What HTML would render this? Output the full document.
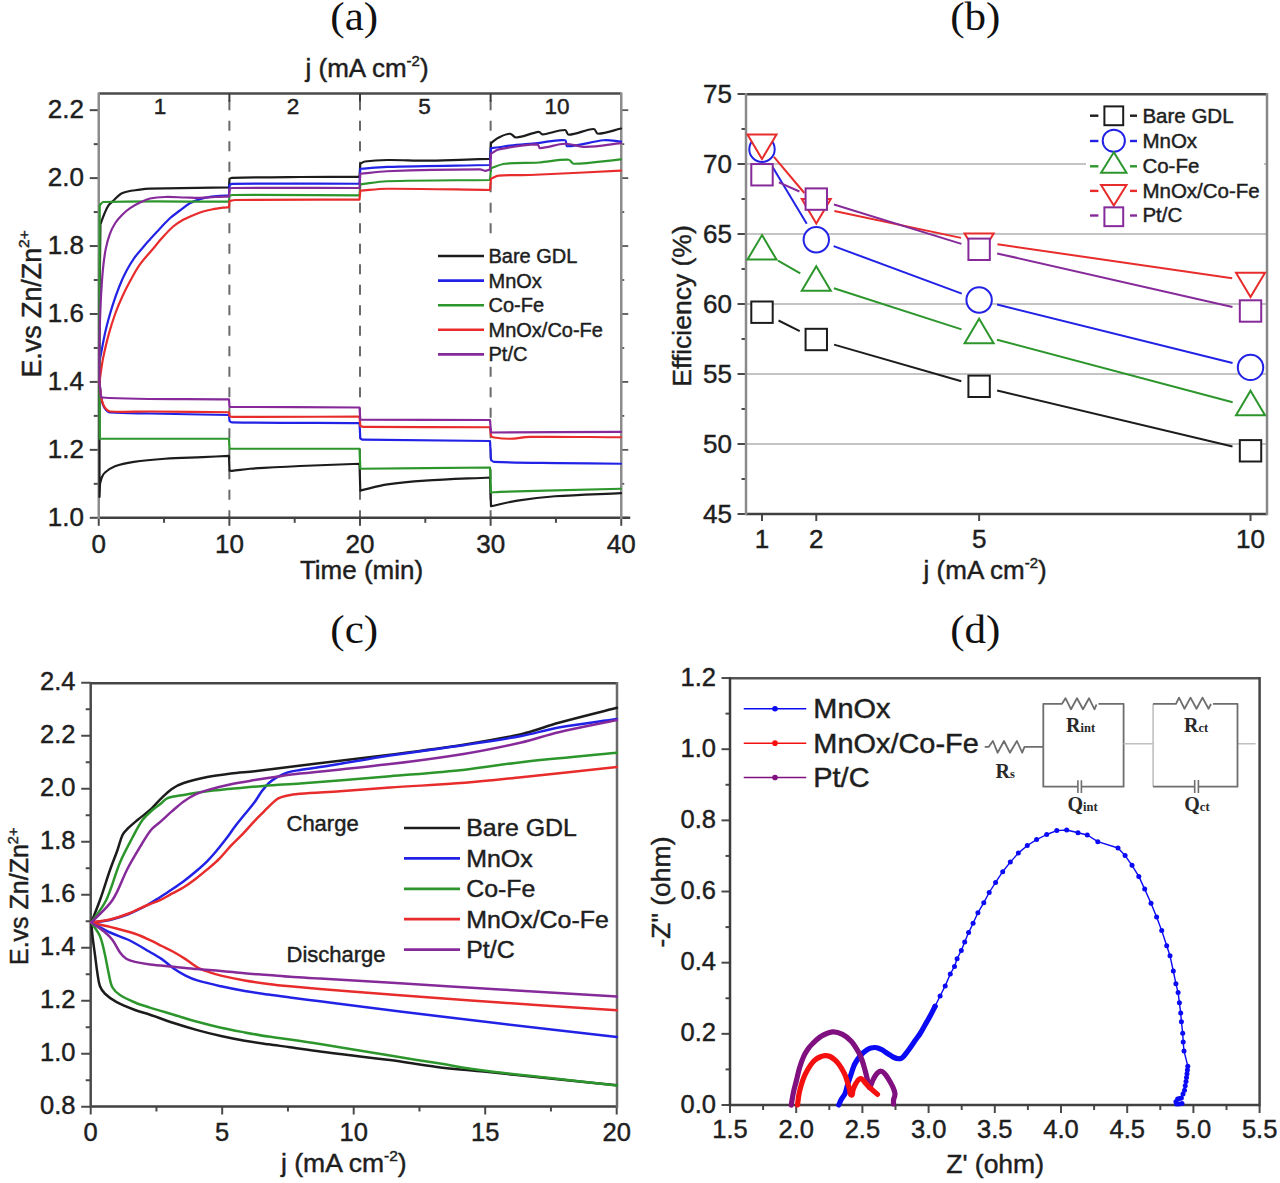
<!DOCTYPE html>
<html><head><meta charset="utf-8"><style>
html,body{margin:0;padding:0;background:#fff;}
svg{display:block;}
text[font-family="Liberation Sans"]{stroke:#1e1e1e;stroke-width:0.45px;}
</style></head><body>
<svg width="1280" height="1183" viewBox="0 0 1280 1183">
<rect width="1280" height="1183" fill="#ffffff"/>
<text transform="translate(354.2,29.5) scale(1.05,1)" font-family="Liberation Serif" font-size="41" text-anchor="middle" fill="#111" >(a)</text>
<text transform="translate(305.5,77)" font-family="Liberation Sans" font-size="26" fill="#1e1e1e">j (mA cm<tspan dy="-11" font-size="15">-2</tspan><tspan dy="11">)</tspan></text>
<line x1="229.38" y1="93.6" x2="229.38" y2="517.8" stroke="#6a6a6a" stroke-width="2" stroke-dasharray="10,10.5" stroke-dashoffset="13.85"/>
<line x1="360" y1="93.6" x2="360" y2="517.8" stroke="#6a6a6a" stroke-width="2" stroke-dasharray="10,10.5" stroke-dashoffset="13.85"/>
<line x1="490.62" y1="93.6" x2="490.62" y2="517.8" stroke="#6a6a6a" stroke-width="2" stroke-dasharray="10,10.5" stroke-dashoffset="13.85"/>
<line x1="89.75" y1="517.8" x2="98.75" y2="517.8" stroke="#4a4a4a" stroke-width="2" />
<line x1="621.25" y1="517.8" x2="628.25" y2="517.8" stroke="#5a5a5a" stroke-width="1.8" />
<text transform="translate(84,526.1)" font-family="Liberation Sans" font-size="26" text-anchor="end" fill="#1e1e1e" >1.0</text>
<line x1="93.75" y1="483.83" x2="98.75" y2="483.83" stroke="#4a4a4a" stroke-width="2" />
<line x1="621.25" y1="483.83" x2="624.25" y2="483.83" stroke="#5a5a5a" stroke-width="1.8" />
<line x1="89.75" y1="449.86" x2="98.75" y2="449.86" stroke="#4a4a4a" stroke-width="2" />
<line x1="621.25" y1="449.86" x2="628.25" y2="449.86" stroke="#5a5a5a" stroke-width="1.8" />
<text transform="translate(84,458.16)" font-family="Liberation Sans" font-size="26" text-anchor="end" fill="#1e1e1e" >1.2</text>
<line x1="93.75" y1="415.89" x2="98.75" y2="415.89" stroke="#4a4a4a" stroke-width="2" />
<line x1="621.25" y1="415.89" x2="624.25" y2="415.89" stroke="#5a5a5a" stroke-width="1.8" />
<line x1="89.75" y1="381.92" x2="98.75" y2="381.92" stroke="#4a4a4a" stroke-width="2" />
<line x1="621.25" y1="381.92" x2="628.25" y2="381.92" stroke="#5a5a5a" stroke-width="1.8" />
<text transform="translate(84,390.22)" font-family="Liberation Sans" font-size="26" text-anchor="end" fill="#1e1e1e" >1.4</text>
<line x1="93.75" y1="347.95" x2="98.75" y2="347.95" stroke="#4a4a4a" stroke-width="2" />
<line x1="621.25" y1="347.95" x2="624.25" y2="347.95" stroke="#5a5a5a" stroke-width="1.8" />
<line x1="89.75" y1="313.98" x2="98.75" y2="313.98" stroke="#4a4a4a" stroke-width="2" />
<line x1="621.25" y1="313.98" x2="628.25" y2="313.98" stroke="#5a5a5a" stroke-width="1.8" />
<text transform="translate(84,322.28)" font-family="Liberation Sans" font-size="26" text-anchor="end" fill="#1e1e1e" >1.6</text>
<line x1="93.75" y1="280.01" x2="98.75" y2="280.01" stroke="#4a4a4a" stroke-width="2" />
<line x1="621.25" y1="280.01" x2="624.25" y2="280.01" stroke="#5a5a5a" stroke-width="1.8" />
<line x1="89.75" y1="246.04" x2="98.75" y2="246.04" stroke="#4a4a4a" stroke-width="2" />
<line x1="621.25" y1="246.04" x2="628.25" y2="246.04" stroke="#5a5a5a" stroke-width="1.8" />
<text transform="translate(84,254.34)" font-family="Liberation Sans" font-size="26" text-anchor="end" fill="#1e1e1e" >1.8</text>
<line x1="93.75" y1="212.07" x2="98.75" y2="212.07" stroke="#4a4a4a" stroke-width="2" />
<line x1="621.25" y1="212.07" x2="624.25" y2="212.07" stroke="#5a5a5a" stroke-width="1.8" />
<line x1="89.75" y1="178.1" x2="98.75" y2="178.1" stroke="#4a4a4a" stroke-width="2" />
<line x1="621.25" y1="178.1" x2="628.25" y2="178.1" stroke="#5a5a5a" stroke-width="1.8" />
<text transform="translate(84,186.4)" font-family="Liberation Sans" font-size="26" text-anchor="end" fill="#1e1e1e" >2.0</text>
<line x1="93.75" y1="144.13" x2="98.75" y2="144.13" stroke="#4a4a4a" stroke-width="2" />
<line x1="621.25" y1="144.13" x2="624.25" y2="144.13" stroke="#5a5a5a" stroke-width="1.8" />
<line x1="89.75" y1="110.16" x2="98.75" y2="110.16" stroke="#4a4a4a" stroke-width="2" />
<line x1="621.25" y1="110.16" x2="628.25" y2="110.16" stroke="#5a5a5a" stroke-width="1.8" />
<text transform="translate(84,118.46)" font-family="Liberation Sans" font-size="26" text-anchor="end" fill="#1e1e1e" >2.2</text>
<line x1="98.75" y1="517.8" x2="98.75" y2="525.8" stroke="#4a4a4a" stroke-width="2" />
<text transform="translate(98.75,552.8)" font-family="Liberation Sans" font-size="26" text-anchor="middle" fill="#1e1e1e" >0</text>
<line x1="164.06" y1="517.8" x2="164.06" y2="522.8" stroke="#4a4a4a" stroke-width="2" />
<line x1="229.38" y1="517.8" x2="229.38" y2="525.8" stroke="#4a4a4a" stroke-width="2" />
<text transform="translate(229.38,552.8)" font-family="Liberation Sans" font-size="26" text-anchor="middle" fill="#1e1e1e" >10</text>
<line x1="294.69" y1="517.8" x2="294.69" y2="522.8" stroke="#4a4a4a" stroke-width="2" />
<line x1="360" y1="517.8" x2="360" y2="525.8" stroke="#4a4a4a" stroke-width="2" />
<text transform="translate(360,552.8)" font-family="Liberation Sans" font-size="26" text-anchor="middle" fill="#1e1e1e" >20</text>
<line x1="425.31" y1="517.8" x2="425.31" y2="522.8" stroke="#4a4a4a" stroke-width="2" />
<line x1="490.62" y1="517.8" x2="490.62" y2="525.8" stroke="#4a4a4a" stroke-width="2" />
<text transform="translate(490.62,552.8)" font-family="Liberation Sans" font-size="26" text-anchor="middle" fill="#1e1e1e" >30</text>
<line x1="555.94" y1="517.8" x2="555.94" y2="522.8" stroke="#4a4a4a" stroke-width="2" />
<line x1="621.25" y1="517.8" x2="621.25" y2="525.8" stroke="#4a4a4a" stroke-width="2" />
<text transform="translate(621.25,552.8)" font-family="Liberation Sans" font-size="26" text-anchor="middle" fill="#1e1e1e" >40</text>
<line x1="98.75" y1="93.6" x2="621.25" y2="93.6" stroke="#4a4a4a" stroke-width="2.5" />
<line x1="98.75" y1="517.8" x2="630.25" y2="517.8" stroke="#404040" stroke-width="2.5" />
<line x1="98.75" y1="92.4" x2="98.75" y2="519" stroke="#8c8c8c" stroke-width="2.5" />
<line x1="621.25" y1="92.4" x2="621.25" y2="519" stroke="#8c8c8c" stroke-width="2.5" />
<text transform="translate(160,113.8)" font-family="Liberation Sans" font-size="22.5" text-anchor="middle" fill="#1e1e1e" >1</text>
<text transform="translate(293,113.8)" font-family="Liberation Sans" font-size="22.5" text-anchor="middle" fill="#1e1e1e" >2</text>
<text transform="translate(424.5,113.8)" font-family="Liberation Sans" font-size="22.5" text-anchor="middle" fill="#1e1e1e" >5</text>
<text transform="translate(557,113.8)" font-family="Liberation Sans" font-size="22.5" text-anchor="middle" fill="#1e1e1e" >10</text>
<line x1="229.38" y1="93.6" x2="229.38" y2="101.6" stroke="#3a3a3a" stroke-width="2" />
<line x1="360" y1="93.6" x2="360" y2="101.6" stroke="#3a3a3a" stroke-width="2" />
<line x1="490.62" y1="93.6" x2="490.62" y2="101.6" stroke="#3a3a3a" stroke-width="2" />
<text transform="translate(361.5,579)" font-family="Liberation Sans" font-size="26" text-anchor="middle" fill="#1e1e1e" >Time (min)</text>
<text transform="translate(40.5,377.5) rotate(-90)" font-family="Liberation Sans" font-size="26.8" fill="#1e1e1e">E.vs Zn/Zn<tspan dy="-11.5" font-size="15.5">2+</tspan></text>
<path d="M99.5,382 L99.5,497 L100,483.75 C100.67,481.5 101.05,479.14 102,477 C102.73,475.35 103.61,473.65 105,472.5 C108.03,470 111.31,467.61 115,466.25 C121.02,464.03 127.4,462.85 133.75,461.9 C144.1,460.35 154.56,459.48 165,458.75 C177.48,457.88 190,457.66 202.5,457.1 C211.33,456.71 220.17,456.3 229,455.9 L229.5,470.6 C230.33,470.67 231.17,470.88 232,470.8 C238.01,470.26 243.98,469.18 250,468.75 C266.65,467.57 283.33,466.76 300,466 C319.83,465.09 339.67,464.5 359.5,463.75 L360.3,490.6 C369.37,488.53 378.31,485.82 387.5,484.4 C399.92,482.48 412.46,481.44 425,480.6 C446.64,479.14 468.33,478.53 490,477.5 L491,506.25 C499.83,504.37 508.58,501.99 517.5,500.6 C529.93,498.66 542.45,497.16 555,496.25 C576.97,494.66 599,494.15 621,493.1" fill="none" stroke="#1c1c1c" stroke-width="2.2" stroke-linejoin="round" stroke-linecap="round" />
<path d="M99.5,382 L99.6,300 L100.4,224.3 C101.77,220.7 102.98,217.04 104.5,213.5 C105.69,210.73 106.82,207.9 108.5,205.4 C109.56,203.81 111.17,202.67 112.6,201.4 C115.84,198.53 118.53,194.71 122.5,193 C127.96,190.65 134.13,190.54 140,189.6 C143.31,189.07 146.65,188.69 150,188.6 C176.33,187.92 202.67,187.73 229,187.3 L229.5,178.8 C230.33,178.47 231.1,177.82 232,177.8 C254.66,177.22 277.33,177.16 300,177 C319.83,176.86 339.67,176.93 359.5,176.9 L360.3,163.7 C361.87,162.97 363.29,161.73 365,161.5 C372.45,160.49 379.98,160.11 387.5,160 C400,159.81 412.5,160.63 425,160.6 C436.67,160.57 448.33,160.12 460,159.8 C470,159.52 480,159.13 490,158.8 L491,143.1 C493.58,141.23 495.89,138.91 498.75,137.5 C502.3,135.75 506.05,133.75 510,133.75 C512.43,133.75 513.83,137.66 516.25,137.5 C523.96,137 531.07,132.81 538.75,131.9 C540.24,131.72 541,134.51 542.5,134.4 C550.12,133.85 557.36,129.9 565,130 C567.02,130.03 566.73,134.82 568.75,134.75 C577.3,134.45 585.2,129.29 593.75,129 C595.87,128.93 595.88,133.79 598,133.75 C605.86,133.61 613.33,130.25 621,128.5" fill="none" stroke="#1c1c1c" stroke-width="2.2" stroke-linejoin="round" stroke-linecap="round" />
<path d="M99.5,382 C100,386.67 100.29,391.36 101,396 C101.46,399.04 101.97,402.11 103,405 C103.65,406.83 104.67,408.58 106,410 C107.07,411.15 108.43,412.38 110,412.5 C123.3,413.56 136.67,413.22 150,413.5 C176.33,414.05 202.67,414.5 229,415 L229.5,421 C230.33,421.43 231.06,422.28 232,422.3 C274.5,422.99 317,422.83 359.5,423.1 L360.3,438.5 C361.2,438.9 362.02,439.68 363,439.7 C405.33,440.52 447.67,440.57 490,441 L491,460 C492,460.63 492.82,461.85 494,461.9 C515.98,462.89 538,462.78 560,463.1 C580.33,463.4 600.67,463.53 621,463.75" fill="none" stroke="#2222e6" stroke-width="2.2" stroke-linejoin="round" stroke-linecap="round" />
<path d="M99.5,362 L100.4,356.8 C102.2,347.77 103.67,338.66 105.8,329.7 C107.74,321.52 110.09,313.43 112.6,305.4 C114.59,299.02 116.82,292.71 119.3,286.5 C121.33,281.43 123.56,276.43 126.1,271.6 C128.54,266.95 131.16,262.38 134.2,258.1 C137.48,253.49 141.35,249.32 145,245 C146.62,243.09 148.32,241.25 150,239.4 C153.32,235.75 156.62,232.09 160,228.5 C163.25,225.05 166.39,221.48 169.9,218.3 C173.04,215.46 176.53,213.06 179.9,210.5 C183.17,208.02 186.23,205.21 189.8,203.2 C192.92,201.45 196.39,200.37 199.8,199.3 C203.07,198.27 206.42,197.48 209.8,196.9 C213.07,196.34 216.39,196.12 219.7,195.9 C222.79,195.69 225.9,195.7 229,195.6 L229.5,185 C230.33,184.6 231.08,183.81 232,183.8 C274.5,183.39 317,183.77 359.5,183.75 L360.3,168.75 C369.2,168.13 378.08,167.16 387,166.9 C421.32,165.91 455.67,165.63 490,165 L491,148.1 C493.58,147.82 496.17,147.59 498.75,147.25 C502.51,146.76 506.23,146 510,145.6 C519.15,144.62 528.34,143.99 537.5,143.1 C546.67,142.21 555.83,139.29 565,140.25 C567.15,140.48 565.33,146.25 567.5,146.25 C579.75,146.25 591.55,141.31 603.75,140.25 C609.5,139.75 615.25,141.15 621,141.6" fill="none" stroke="#2222e6" stroke-width="2.2" stroke-linejoin="round" stroke-linecap="round" />
<path d="M99.5,382 L99.8,438.75 C142.87,438.75 185.93,438.75 229,438.75 L229.5,448.75 C272.83,448.75 316.17,448.75 359.5,448.75 L360.3,468.75 C403.53,468.33 446.77,467.92 490,467.5 L491,492.5 C494,492.3 496.99,491.99 500,491.9 C540.33,490.74 580.67,489.8 621,488.75" fill="none" stroke="#2c962c" stroke-width="2.2" stroke-linejoin="round" stroke-linecap="round" />
<path d="M99.5,382 L99.7,205.4 C100.83,204.27 101.5,202.05 103.1,202 C145.05,200.8 187.03,201.8 229,201.7 L229.5,196 C230.33,195.67 231.1,195 232,195 C274.5,194.8 317,195.27 359.5,195.4 L360.3,184.4 C369.2,183.35 378.04,181.55 387,181.25 C421.32,180.09 455.67,180.42 490,180 L491,168.1 C495.67,166.65 500.15,164.32 505,163.75 C516.18,162.44 527.51,163.2 538.75,162.5 C548.77,161.87 558.71,159.39 568.75,159.75 C570.88,159.83 571.62,163.76 573.75,163.75 C589.57,163.64 605.25,160.85 621,159.4" fill="none" stroke="#2c962c" stroke-width="2.2" stroke-linejoin="round" stroke-linecap="round" />
<path d="M99.5,382 C100,386.67 100.26,391.36 101,396 C101.43,398.71 102.01,401.43 103,404 C103.7,405.81 104.67,407.58 106,409 C107.07,410.15 108.43,411.41 110,411.5 C123.31,412.26 136.67,411.42 150,411.5 C176.33,411.67 202.67,412 229,412.25 L229.5,416 C230.33,416.3 231.11,416.9 232,416.9 C274.5,417.1 317,416.7 359.5,416.6 L360.3,426 C361.2,426.3 362.05,426.89 363,426.9 C405.33,427.31 447.67,427.13 490,427.25 L491,436 C492,436.5 492.89,437.34 494,437.5 C499.29,438.27 504.65,438.84 510,438.75 C516.69,438.64 523.31,436.99 530,436.9 C560.33,436.49 590.67,437.13 621,437.25" fill="none" stroke="#e82c2c" stroke-width="2.2" stroke-linejoin="round" stroke-linecap="round" />
<path d="M99.5,382 C100,378.33 100.45,374.66 101,371 C101.65,366.69 102.21,362.36 103.1,358.1 C104.71,350.39 106.42,342.7 108.5,335.1 C110.49,327.82 112.76,320.61 115.3,313.5 C117.27,308 119.57,302.62 122,297.3 C124.51,291.81 127.22,286.41 130.1,281.1 C133.09,275.6 136,270.02 139.6,264.9 C143.32,259.62 147.86,254.96 152,250 C155.49,245.82 158.86,241.54 162.5,237.5 C165.93,233.7 169.31,229.82 173.2,226.5 C176.25,223.89 179.71,221.77 183.2,219.8 C186.39,218 189.81,216.61 193.2,215.2 C196.45,213.84 199.73,212.52 203.1,211.5 C206.37,210.51 209.74,209.86 213.1,209.2 C216.38,208.56 219.68,208.02 223,207.6 C224.99,207.35 227,207.33 229,207.2 L229.5,201 C231.33,200.67 233.14,200.02 235,200 C276.5,199.55 318,199.73 359.5,199.6 L360.3,190.6 C369.2,189.98 378.08,188.79 387,188.75 C421.34,188.59 455.67,189.58 490,190 L491,178.75 C493.58,177.7 495.97,175.87 498.75,175.6 C509.12,174.6 519.59,175.43 530,175 C560.34,173.76 590.67,172.07 621,170.6" fill="none" stroke="#e82c2c" stroke-width="2.2" stroke-linejoin="round" stroke-linecap="round" />
<path d="M99.5,382 L100.5,392 C101,393.83 100.1,397.39 102,397.5 C144.27,399.93 186.67,398.77 229,399.4 L229.5,406.9 C272.83,407.1 316.17,407.3 359.5,407.5 L360.3,419.75 C403.53,419.83 446.77,419.92 490,420 L491,432.5 C534.33,432.3 577.67,432.1 621,431.9" fill="none" stroke="#862a9a" stroke-width="2.2" stroke-linejoin="round" stroke-linecap="round" />
<path d="M99.5,382 L99.3,350 L100,320 C100.37,311.53 100.6,303.06 101.1,294.6 C101.63,285.59 102.18,276.58 103.1,267.6 C103.75,261.24 104.54,254.87 105.8,248.6 C106.81,243.58 108.12,238.6 109.9,233.8 C111.3,230.03 113.13,226.39 115.3,223 C117.19,220.05 119.53,217.39 122,214.9 C124.48,212.4 127.18,210.08 130.1,208.1 C133.54,205.76 137.25,203.81 141,202 C143.9,200.6 146.85,199.16 150,198.5 C154.92,197.48 159.98,197.14 165,197 C171.67,196.81 178.33,197.33 185,197.5 C190,197.63 195,197.98 200,197.9 C205.01,197.82 210,197.22 215,197 C219.66,196.79 224.33,196.73 229,196.6 L229.5,189 C230.33,188.67 231.1,188.01 232,188 C274.5,187.67 317,188 359.5,188 L360.3,173.75 C369.2,172.92 378.07,171.57 387,171.25 C417.99,170.12 448.99,169.54 480,169.4 C481.73,169.39 483.27,170.8 485,170.8 C486.73,170.8 488.33,169.87 490,169.4 L491,153.75 C493.58,152.3 495.85,149.98 498.75,149.4 C511.52,146.83 524.48,144.81 537.5,144.4 C538.99,144.35 538.51,148.14 540,148.1 C548.46,147.9 556.54,143.97 565,143.75 C572.08,143.57 578.92,146.98 586,146.9 C597.73,146.76 609.33,144.37 621,143.1" fill="none" stroke="#862a9a" stroke-width="2.2" stroke-linejoin="round" stroke-linecap="round" />
<rect x="432" y="237" width="165" height="129" fill="#fff"/>
<line x1="438" y1="256" x2="484" y2="256" stroke="#1c1c1c" stroke-width="2.6" />
<text transform="translate(488.5,263)" font-family="Liberation Sans" font-size="20" text-anchor="start" fill="#1e1e1e" >Bare GDL</text>
<line x1="438" y1="280.6" x2="484" y2="280.6" stroke="#2222e6" stroke-width="2.6" />
<text transform="translate(488.5,287.6)" font-family="Liberation Sans" font-size="20" text-anchor="start" fill="#1e1e1e" >MnOx</text>
<line x1="438" y1="305.2" x2="484" y2="305.2" stroke="#2c962c" stroke-width="2.6" />
<text transform="translate(488.5,312.2)" font-family="Liberation Sans" font-size="20" text-anchor="start" fill="#1e1e1e" >Co-Fe</text>
<line x1="438" y1="329.8" x2="484" y2="329.8" stroke="#e82c2c" stroke-width="2.6" />
<text transform="translate(488.5,336.8)" font-family="Liberation Sans" font-size="20" text-anchor="start" fill="#1e1e1e" >MnOx/Co-Fe</text>
<line x1="438" y1="354.4" x2="484" y2="354.4" stroke="#862a9a" stroke-width="2.6" />
<text transform="translate(488.5,361.4)" font-family="Liberation Sans" font-size="20" text-anchor="start" fill="#1e1e1e" >Pt/C</text>
<text transform="translate(975.3,29.5) scale(1.05,1)" font-family="Liberation Serif" font-size="41" text-anchor="middle" fill="#111" >(b)</text>
<line x1="746" y1="444" x2="1267" y2="444" stroke="#c4c4c4" stroke-width="2" />
<line x1="746" y1="374" x2="1267" y2="374" stroke="#c4c4c4" stroke-width="2" />
<line x1="746" y1="304" x2="1267" y2="304" stroke="#c4c4c4" stroke-width="2" />
<line x1="746" y1="234" x2="1267" y2="234" stroke="#c4c4c4" stroke-width="2" />
<line x1="746" y1="164" x2="1267" y2="164" stroke="#c4c4c4" stroke-width="2" />
<line x1="737.5" y1="514" x2="746" y2="514" stroke="#4a4a4a" stroke-width="2" />
<text transform="translate(732,523)" font-family="Liberation Sans" font-size="26" text-anchor="end" fill="#1e1e1e" >45</text>
<line x1="741.5" y1="479" x2="746" y2="479" stroke="#4a4a4a" stroke-width="2" />
<line x1="737.5" y1="444" x2="746" y2="444" stroke="#4a4a4a" stroke-width="2" />
<text transform="translate(732,453)" font-family="Liberation Sans" font-size="26" text-anchor="end" fill="#1e1e1e" >50</text>
<line x1="741.5" y1="409" x2="746" y2="409" stroke="#4a4a4a" stroke-width="2" />
<line x1="737.5" y1="374" x2="746" y2="374" stroke="#4a4a4a" stroke-width="2" />
<text transform="translate(732,383)" font-family="Liberation Sans" font-size="26" text-anchor="end" fill="#1e1e1e" >55</text>
<line x1="741.5" y1="339" x2="746" y2="339" stroke="#4a4a4a" stroke-width="2" />
<line x1="737.5" y1="304" x2="746" y2="304" stroke="#4a4a4a" stroke-width="2" />
<text transform="translate(732,313)" font-family="Liberation Sans" font-size="26" text-anchor="end" fill="#1e1e1e" >60</text>
<line x1="741.5" y1="269" x2="746" y2="269" stroke="#4a4a4a" stroke-width="2" />
<line x1="737.5" y1="234" x2="746" y2="234" stroke="#4a4a4a" stroke-width="2" />
<text transform="translate(732,243)" font-family="Liberation Sans" font-size="26" text-anchor="end" fill="#1e1e1e" >65</text>
<line x1="741.5" y1="199" x2="746" y2="199" stroke="#4a4a4a" stroke-width="2" />
<line x1="737.5" y1="164" x2="746" y2="164" stroke="#4a4a4a" stroke-width="2" />
<text transform="translate(732,173)" font-family="Liberation Sans" font-size="26" text-anchor="end" fill="#1e1e1e" >70</text>
<line x1="741.5" y1="129" x2="746" y2="129" stroke="#4a4a4a" stroke-width="2" />
<line x1="737.5" y1="94" x2="746" y2="94" stroke="#4a4a4a" stroke-width="2" />
<text transform="translate(732,103)" font-family="Liberation Sans" font-size="26" text-anchor="end" fill="#1e1e1e" >75</text>
<line x1="762" y1="514" x2="762" y2="521" stroke="#4a4a4a" stroke-width="2" />
<text transform="translate(762,548)" font-family="Liberation Sans" font-size="26" text-anchor="middle" fill="#1e1e1e" >1</text>
<line x1="816.28" y1="514" x2="816.28" y2="521" stroke="#4a4a4a" stroke-width="2" />
<text transform="translate(816.28,548)" font-family="Liberation Sans" font-size="26" text-anchor="middle" fill="#1e1e1e" >2</text>
<line x1="979.12" y1="514" x2="979.12" y2="521" stroke="#4a4a4a" stroke-width="2" />
<text transform="translate(979.12,548)" font-family="Liberation Sans" font-size="26" text-anchor="middle" fill="#1e1e1e" >5</text>
<line x1="1250.52" y1="514" x2="1250.52" y2="521" stroke="#4a4a4a" stroke-width="2" />
<text transform="translate(1250.52,548)" font-family="Liberation Sans" font-size="26" text-anchor="middle" fill="#1e1e1e" >10</text>
<line x1="746" y1="94.3" x2="1267" y2="94.3" stroke="#454545" stroke-width="2.5" />
<line x1="746" y1="514" x2="1267" y2="514" stroke="#404040" stroke-width="2.5" />
<line x1="746" y1="93.1" x2="746" y2="515.2" stroke="#8a8a8a" stroke-width="2.5" />
<line x1="1267" y1="93.1" x2="1267" y2="515.2" stroke="#888888" stroke-width="2.5" />
<text transform="translate(923.6,578.6)" font-family="Liberation Sans" font-size="26" fill="#1e1e1e">j (mA cm<tspan dy="-11" font-size="15">-2</tspan><tspan dy="11">)</tspan></text>
<text transform="translate(691.2,306) rotate(-90)" font-family="Liberation Sans" font-size="26.5" text-anchor="middle" fill="#1e1e1e" >Efficiency (%)</text>
<line x1="778.53" y1="320.51" x2="799.75" y2="331.19" stroke="#1c1c1c" stroke-width="2" />
<line x1="834.06" y1="344.61" x2="961.34" y2="381.19" stroke="#1c1c1c" stroke-width="2" />
<line x1="997.12" y1="390.58" x2="1232.52" y2="446.52" stroke="#1c1c1c" stroke-width="2" />
<rect x="751.3" y="301.5" width="21.4" height="21.4" fill="#fff" stroke="#1c1c1c" stroke-width="2"/>
<rect x="805.58" y="328.8" width="21.4" height="21.4" fill="#fff" stroke="#1c1c1c" stroke-width="2"/>
<rect x="968.42" y="375.6" width="21.4" height="21.4" fill="#fff" stroke="#1c1c1c" stroke-width="2"/>
<rect x="1239.82" y="440.1" width="21.4" height="21.4" fill="#fff" stroke="#1c1c1c" stroke-width="2"/>
<line x1="771.52" y1="165.16" x2="806.76" y2="223.84" stroke="#2222e6" stroke-width="2" />
<line x1="833.63" y1="246.12" x2="961.77" y2="293.58" stroke="#2222e6" stroke-width="2" />
<line x1="997.07" y1="304.46" x2="1232.57" y2="362.94" stroke="#2222e6" stroke-width="2" />
<circle cx="762" cy="149.3" r="12.7" fill="#fff" stroke="#2222e6" stroke-width="2"/>
<circle cx="816.28" cy="239.7" r="12.7" fill="#fff" stroke="#2222e6" stroke-width="2"/>
<circle cx="979.12" cy="300" r="12.7" fill="#fff" stroke="#2222e6" stroke-width="2"/>
<circle cx="1250.52" cy="367.4" r="12.7" fill="#fff" stroke="#2222e6" stroke-width="2"/>
<line x1="778.04" y1="260.62" x2="800.24" y2="273.38" stroke="#2c962c" stroke-width="2" />
<line x1="833.89" y1="288.27" x2="961.51" y2="329.33" stroke="#2c962c" stroke-width="2" />
<line x1="997" y1="339.74" x2="1232.64" y2="402.26" stroke="#2c962c" stroke-width="2" />
<path d="M762,235.1 L776.5,259.55 L747.5,259.55 Z" fill="#fff" stroke="#2c962c" stroke-width="2" stroke-linejoin="miter"/>
<path d="M816.28,266.3 L830.78,290.75 L801.78,290.75 Z" fill="#fff" stroke="#2c962c" stroke-width="2" stroke-linejoin="miter"/>
<path d="M979.12,318.7 L993.62,343.15 L964.62,343.15 Z" fill="#fff" stroke="#2c962c" stroke-width="2" stroke-linejoin="miter"/>
<path d="M1250.52,390.7 L1265.02,415.15 L1236.02,415.15 Z" fill="#fff" stroke="#2c962c" stroke-width="2" stroke-linejoin="miter"/>
<line x1="773.92" y1="156.85" x2="804.36" y2="193" stroke="#e82c2c" stroke-width="2" />
<line x1="834.38" y1="210.99" x2="961.02" y2="237.86" stroke="#e82c2c" stroke-width="2" />
<line x1="997.43" y1="244.34" x2="1232.21" y2="278.16" stroke="#e82c2c" stroke-width="2" />
<path d="M747.5,134.55 L776.5,134.55 L762,159 Z" fill="#fff" stroke="#e82c2c" stroke-width="2" stroke-linejoin="miter"/>
<path d="M801.78,199 L830.78,199 L816.28,223.45 Z" fill="#fff" stroke="#e82c2c" stroke-width="2" stroke-linejoin="miter"/>
<path d="M964.62,233.55 L993.62,233.55 L979.12,258 Z" fill="#fff" stroke="#e82c2c" stroke-width="2" stroke-linejoin="miter"/>
<path d="M1236.02,272.65 L1265.02,272.65 L1250.52,297.1 Z" fill="#fff" stroke="#e82c2c" stroke-width="2" stroke-linejoin="miter"/>
<line x1="778.88" y1="182.32" x2="799.4" y2="191.53" stroke="#862a9a" stroke-width="2" />
<line x1="833.96" y1="204.55" x2="961.44" y2="243.85" stroke="#862a9a" stroke-width="2" />
<line x1="997.16" y1="253.4" x2="1232.48" y2="306.9" stroke="#862a9a" stroke-width="2" />
<rect x="751.3" y="164.05" width="21.4" height="21.4" fill="#fff" stroke="#862a9a" stroke-width="2"/>
<rect x="805.58" y="188.4" width="21.4" height="21.4" fill="#fff" stroke="#862a9a" stroke-width="2"/>
<rect x="968.42" y="238.6" width="21.4" height="21.4" fill="#fff" stroke="#862a9a" stroke-width="2"/>
<rect x="1239.82" y="300.3" width="21.4" height="21.4" fill="#fff" stroke="#862a9a" stroke-width="2"/>
<rect x="1086" y="99" width="178" height="130" fill="#fff"/>
<line x1="1090" y1="115.7" x2="1098.4" y2="115.7" stroke="#1c1c1c" stroke-width="2.4" />
<line x1="1130" y1="115.7" x2="1137" y2="115.7" stroke="#1c1c1c" stroke-width="2.4" />
<rect x="1104.4" y="106.4" width="18.8" height="18.8" fill="#fff" stroke="#1c1c1c" stroke-width="2"/>
<text transform="translate(1142.4,122.5)" font-family="Liberation Sans" font-size="20.5" text-anchor="start" fill="#1e1e1e" >Bare GDL</text>
<line x1="1090" y1="141" x2="1098.4" y2="141" stroke="#2222e6" stroke-width="2.4" />
<line x1="1130" y1="141" x2="1137" y2="141" stroke="#2222e6" stroke-width="2.4" />
<circle cx="1113.8" cy="140.75" r="11.1" fill="#fff" stroke="#2222e6" stroke-width="2"/>
<text transform="translate(1142.4,147.8)" font-family="Liberation Sans" font-size="20.5" text-anchor="start" fill="#1e1e1e" >MnOx</text>
<line x1="1090" y1="166.3" x2="1098.4" y2="166.3" stroke="#2c962c" stroke-width="2.4" />
<line x1="1130" y1="166.3" x2="1137" y2="166.3" stroke="#2c962c" stroke-width="2.4" />
<path d="M1113.8,152.3 L1126.5,172.7 L1101.1,172.7 Z" fill="#fff" stroke="#2c962c" stroke-width="2" stroke-linejoin="miter"/>
<text transform="translate(1142.4,173.1)" font-family="Liberation Sans" font-size="20.5" text-anchor="start" fill="#1e1e1e" >Co-Fe</text>
<line x1="1090" y1="190.9" x2="1098.4" y2="190.9" stroke="#e82c2c" stroke-width="2.4" />
<line x1="1130" y1="190.9" x2="1137" y2="190.9" stroke="#e82c2c" stroke-width="2.4" />
<path d="M1101.1,185.1 L1126.5,185.1 L1113.8,205.5 Z" fill="#fff" stroke="#e82c2c" stroke-width="2" stroke-linejoin="miter"/>
<text transform="translate(1142.4,197.7)" font-family="Liberation Sans" font-size="20.5" text-anchor="start" fill="#1e1e1e" >MnOx/Co-Fe</text>
<line x1="1090" y1="215.5" x2="1098.4" y2="215.5" stroke="#862a9a" stroke-width="2.4" />
<line x1="1130" y1="215.5" x2="1137" y2="215.5" stroke="#862a9a" stroke-width="2.4" />
<rect x="1104.4" y="207.35" width="18.8" height="18.8" fill="#fff" stroke="#862a9a" stroke-width="2"/>
<text transform="translate(1142.4,222.3)" font-family="Liberation Sans" font-size="20.5" text-anchor="start" fill="#1e1e1e" >Pt/C</text>
<text transform="translate(354.2,643) scale(1.05,1)" font-family="Liberation Serif" font-size="41" text-anchor="middle" fill="#111" >(c)</text>
<line x1="81.2" y1="1106.75" x2="90.7" y2="1106.75" stroke="#4a4a4a" stroke-width="2" />
<text transform="translate(75.5,1114.05)" font-family="Liberation Sans" font-size="25.5" text-anchor="end" fill="#1e1e1e" >0.8</text>
<line x1="85.7" y1="1080.25" x2="90.7" y2="1080.25" stroke="#4a4a4a" stroke-width="2" />
<line x1="81.2" y1="1053.75" x2="90.7" y2="1053.75" stroke="#4a4a4a" stroke-width="2" />
<text transform="translate(75.5,1061.05)" font-family="Liberation Sans" font-size="25.5" text-anchor="end" fill="#1e1e1e" >1.0</text>
<line x1="85.7" y1="1027.25" x2="90.7" y2="1027.25" stroke="#4a4a4a" stroke-width="2" />
<line x1="81.2" y1="1000.75" x2="90.7" y2="1000.75" stroke="#4a4a4a" stroke-width="2" />
<text transform="translate(75.5,1008.05)" font-family="Liberation Sans" font-size="25.5" text-anchor="end" fill="#1e1e1e" >1.2</text>
<line x1="85.7" y1="974.25" x2="90.7" y2="974.25" stroke="#4a4a4a" stroke-width="2" />
<line x1="81.2" y1="947.75" x2="90.7" y2="947.75" stroke="#4a4a4a" stroke-width="2" />
<text transform="translate(75.5,955.05)" font-family="Liberation Sans" font-size="25.5" text-anchor="end" fill="#1e1e1e" >1.4</text>
<line x1="85.7" y1="921.25" x2="90.7" y2="921.25" stroke="#4a4a4a" stroke-width="2" />
<line x1="81.2" y1="894.75" x2="90.7" y2="894.75" stroke="#4a4a4a" stroke-width="2" />
<text transform="translate(75.5,902.05)" font-family="Liberation Sans" font-size="25.5" text-anchor="end" fill="#1e1e1e" >1.6</text>
<line x1="85.7" y1="868.25" x2="90.7" y2="868.25" stroke="#4a4a4a" stroke-width="2" />
<line x1="81.2" y1="841.75" x2="90.7" y2="841.75" stroke="#4a4a4a" stroke-width="2" />
<text transform="translate(75.5,849.05)" font-family="Liberation Sans" font-size="25.5" text-anchor="end" fill="#1e1e1e" >1.8</text>
<line x1="85.7" y1="815.25" x2="90.7" y2="815.25" stroke="#4a4a4a" stroke-width="2" />
<line x1="81.2" y1="788.75" x2="90.7" y2="788.75" stroke="#4a4a4a" stroke-width="2" />
<text transform="translate(75.5,796.05)" font-family="Liberation Sans" font-size="25.5" text-anchor="end" fill="#1e1e1e" >2.0</text>
<line x1="85.7" y1="762.25" x2="90.7" y2="762.25" stroke="#4a4a4a" stroke-width="2" />
<line x1="81.2" y1="735.75" x2="90.7" y2="735.75" stroke="#4a4a4a" stroke-width="2" />
<text transform="translate(75.5,743.05)" font-family="Liberation Sans" font-size="25.5" text-anchor="end" fill="#1e1e1e" >2.2</text>
<line x1="85.7" y1="709.25" x2="90.7" y2="709.25" stroke="#4a4a4a" stroke-width="2" />
<line x1="81.2" y1="682.75" x2="90.7" y2="682.75" stroke="#4a4a4a" stroke-width="2" />
<text transform="translate(75.5,690.05)" font-family="Liberation Sans" font-size="25.5" text-anchor="end" fill="#1e1e1e" >2.4</text>
<line x1="90.7" y1="1106.5" x2="90.7" y2="1114.5" stroke="#4a4a4a" stroke-width="2" />
<text transform="translate(90.7,1141)" font-family="Liberation Sans" font-size="25.5" text-anchor="middle" fill="#1e1e1e" >0</text>
<line x1="156.45" y1="1106.5" x2="156.45" y2="1111.5" stroke="#4a4a4a" stroke-width="2" />
<line x1="222.2" y1="1106.5" x2="222.2" y2="1114.5" stroke="#4a4a4a" stroke-width="2" />
<text transform="translate(222.2,1141)" font-family="Liberation Sans" font-size="25.5" text-anchor="middle" fill="#1e1e1e" >5</text>
<line x1="287.95" y1="1106.5" x2="287.95" y2="1111.5" stroke="#4a4a4a" stroke-width="2" />
<line x1="353.7" y1="1106.5" x2="353.7" y2="1114.5" stroke="#4a4a4a" stroke-width="2" />
<text transform="translate(353.7,1141)" font-family="Liberation Sans" font-size="25.5" text-anchor="middle" fill="#1e1e1e" >10</text>
<line x1="419.45" y1="1106.5" x2="419.45" y2="1111.5" stroke="#4a4a4a" stroke-width="2" />
<line x1="485.2" y1="1106.5" x2="485.2" y2="1114.5" stroke="#4a4a4a" stroke-width="2" />
<text transform="translate(485.2,1141)" font-family="Liberation Sans" font-size="25.5" text-anchor="middle" fill="#1e1e1e" >15</text>
<line x1="550.95" y1="1106.5" x2="550.95" y2="1111.5" stroke="#4a4a4a" stroke-width="2" />
<line x1="616.7" y1="1106.5" x2="616.7" y2="1114.5" stroke="#4a4a4a" stroke-width="2" />
<text transform="translate(616.7,1141)" font-family="Liberation Sans" font-size="25.5" text-anchor="middle" fill="#1e1e1e" >20</text>
<line x1="90.7" y1="683.2" x2="617" y2="683.2" stroke="#454545" stroke-width="2.5" />
<line x1="90.7" y1="1106.5" x2="617" y2="1106.5" stroke="#404040" stroke-width="2.5" />
<line x1="90.7" y1="682" x2="90.7" y2="1107.7" stroke="#4a4a4a" stroke-width="2.5" />
<line x1="617" y1="682" x2="617" y2="1107.7" stroke="#6a6a6a" stroke-width="2.5" />
<text transform="translate(281,1171.7)" font-family="Liberation Sans" font-size="26.5" fill="#1e1e1e">j (mA cm<tspan dy="-11" font-size="15.5">-2</tspan><tspan dy="11">)</tspan></text>
<text transform="translate(28,965) rotate(-90)" font-family="Liberation Sans" font-size="25" fill="#1e1e1e">E.vs Zn/Zn<tspan dy="-10.5" font-size="14.5">2+</tspan></text>
<text transform="translate(286.5,830.6)" font-family="Liberation Sans" font-size="22" text-anchor="start" fill="#1e1e1e" >Charge</text>
<text transform="translate(286.5,961.5)" font-family="Liberation Sans" font-size="22" text-anchor="start" fill="#1e1e1e" >Discharge</text>
<path d="M91.25,922.5 C91.67,927.08 91.97,931.68 92.5,936.25 C93.22,942.51 94.17,948.75 95,955 C95.83,961.25 96.5,967.52 97.5,973.75 C98.17,977.95 98.51,982.27 100,986.25 C101.05,989.06 102.84,991.67 105,993.75 C108.34,996.96 112.18,999.69 116.25,1001.9 C122.24,1005.14 128.63,1007.59 135,1010 C139.9,1011.86 145.03,1013.03 150,1014.7 C157.93,1017.37 165.74,1020.41 173.7,1023 C181.51,1025.54 189.38,1027.92 197.3,1030.1 C205.15,1032.26 213.06,1034.22 221,1036 C228.86,1037.76 236.77,1039.31 244.7,1040.7 C252.54,1042.08 260.42,1043.17 268.3,1044.3 C275.52,1045.34 282.77,1046.19 290,1047.2 C300.01,1048.59 309.98,1050.22 320,1051.5 C343.31,1054.48 366.7,1056.93 390,1060 C405.67,1062.06 421.22,1064.96 436.9,1066.9 C452.48,1068.83 468.14,1070 483.75,1071.6 C505.84,1073.87 527.91,1076.23 550,1078.5 C572.3,1080.79 594.6,1083.03 616.9,1085.3" fill="none" stroke="#1c1c1c" stroke-width="2.5" stroke-linejoin="round" stroke-linecap="round" />
<path d="M91.25,922.5 C94.17,915 97.29,907.58 100,900 C103.55,890.07 106.52,879.95 110,870 C112.35,863.28 115.11,856.71 117.5,850 C119.27,845.04 120.26,839.77 122.5,835 C123.64,832.59 125.61,830.64 127.5,828.75 C130.63,825.62 134.1,822.84 137.5,820 C141.6,816.58 146.05,813.58 150,810 C153.56,806.77 156.54,802.94 160,799.6 C163.82,795.91 167.45,791.95 171.8,788.9 C175.43,786.36 179.5,784.4 183.7,783 C191.39,780.44 199.35,778.68 207.3,777.1 C215.13,775.54 223.08,774.59 231,773.6 C238.88,772.62 246.81,772.12 254.7,771.2 C274.82,768.84 294.9,766.2 315,763.75 C340,760.7 365.03,757.92 390,754.7 C415.03,751.47 440.07,748.31 465,744.4 C483.83,741.44 502.67,738.38 521.25,734.1 C533.97,731.17 546.16,726.26 558.75,722.8 C578.05,717.49 597.52,712.8 616.9,707.8" fill="none" stroke="#1c1c1c" stroke-width="2.5" stroke-linejoin="round" stroke-linecap="round" />
<path d="M91.25,922.5 C97.5,925.83 103.58,929.5 110,932.5 C116.1,935.35 122.7,937.05 128.75,940 C136.06,943.56 142.96,947.93 150,952 C153.97,954.3 158.03,956.48 161.8,959.1 C165.95,961.99 169.55,965.61 173.7,968.5 C177.47,971.12 181.4,973.53 185.5,975.6 C189.29,977.51 193.23,979.17 197.3,980.4 C205.09,982.75 213.06,984.52 221,986.3 C228.86,988.06 236.77,989.61 244.7,991 C252.54,992.38 260.42,993.47 268.3,994.6 C275.52,995.64 282.76,996.56 290,997.5 C300,998.8 310,1000.02 320,1001.3 C346.67,1004.72 373.32,1008.31 400,1011.6 C433.32,1015.71 466.66,1019.61 500,1023.5 C538.96,1028.04 577.93,1032.43 616.9,1036.9" fill="none" stroke="#2222e6" stroke-width="2.5" stroke-linejoin="round" stroke-linecap="round" />
<path d="M91.25,922.5 C94.17,922.17 97.09,921.89 100,921.5 C103.34,921.05 106.74,920.85 110,920 C116.35,918.34 122.66,916.44 128.75,914 C135.19,911.43 141.39,908.28 147.5,905 C151.83,902.67 155.86,899.84 160,897.2 C163.96,894.67 167.91,892.13 171.8,889.5 C175.81,886.79 179.83,884.09 183.7,881.2 C187.73,878.19 191.67,875.06 195.5,871.8 C199.54,868.36 203.55,864.85 207.3,861.1 C210.66,857.74 213.74,854.13 216.8,850.5 C220.07,846.62 223.23,842.64 226.3,838.6 C229.53,834.34 232.46,829.85 235.7,825.6 C238.76,821.58 242.03,817.73 245.2,813.8 C248.37,809.87 251.7,806.06 254.7,802 C257.24,798.56 259.24,794.73 261.8,791.3 C263.98,788.38 266.22,785.47 268.9,783 C271.4,780.7 274.24,778.76 277.2,777.1 C280.57,775.21 284.11,773.55 287.8,772.4 C291.76,771.17 295.91,770.67 300,770 C309.98,768.37 320.02,767.11 330,765.5 C350.02,762.27 369.95,758.54 390,755.5 C414.96,751.71 440.03,748.71 465,745 C483.78,742.21 502.58,739.48 521.25,736 C533.85,733.65 546.13,729.73 558.75,727.5 C578.04,724.09 597.52,721.9 616.9,719.1" fill="none" stroke="#2222e6" stroke-width="2.5" stroke-linejoin="round" stroke-linecap="round" />
<path d="M91.25,922.5 C94.17,927.08 97.88,931.25 100,936.25 C102.52,942.21 103.53,948.7 105,955 C106.45,961.21 107.32,967.54 108.75,973.75 C109.82,978.38 110.28,983.3 112.5,987.5 C114.15,990.62 117.06,993.04 120,995 C124.65,998.1 129.85,1000.34 135,1002.5 C139.87,1004.55 144.96,1006.01 150,1007.6 C157.87,1010.08 165.8,1012.33 173.7,1014.7 C181.57,1017.06 189.38,1019.62 197.3,1021.8 C205.15,1023.96 213.06,1025.92 221,1027.7 C228.86,1029.46 236.79,1030.91 244.7,1032.4 C252.55,1033.88 260.41,1035.36 268.3,1036.6 C275.51,1037.73 282.78,1038.47 290,1039.5 C300.01,1040.93 310.02,1042.39 320,1044 C343.35,1047.76 366.66,1051.79 390,1055.6 C405.62,1058.15 421.27,1060.6 436.9,1063.1 C452.52,1065.6 468.07,1068.53 483.75,1070.6 C505.78,1073.5 527.92,1075.51 550,1078 C572.3,1080.51 594.6,1083.07 616.9,1085.6" fill="none" stroke="#2c962c" stroke-width="2.5" stroke-linejoin="round" stroke-linecap="round" />
<path d="M91.25,922.5 C96.25,915 102.35,908.13 106.25,900 C112,887.99 114.84,874.78 120,862.5 C123.61,853.91 128.14,845.73 132.5,837.5 C135.64,831.56 138.55,825.43 142.5,820 C145.27,816.19 148.99,813.15 152.5,810 C154.84,807.9 157.54,806.25 160,804.3 C162.41,802.39 164.24,799.53 167.1,798.4 C172.36,796.32 178.13,795.88 183.7,794.9 C191.54,793.52 199.4,792.25 207.3,791.3 C219.11,789.88 230.96,788.88 242.8,787.8 C254.63,786.72 266.46,785.67 278.3,784.8 C285.52,784.27 292.78,784.15 300,783.6 C330.01,781.3 360.01,778.78 390,776.25 C415.01,774.14 440.05,772.37 465,769.7 C483.81,767.69 502.45,764.29 521.25,762.2 C553.09,758.66 585.02,755.93 616.9,752.8" fill="none" stroke="#2c962c" stroke-width="2.5" stroke-linejoin="round" stroke-linecap="round" />
<path d="M91.25,922.5 C97.5,923.97 103.78,925.3 110,926.9 C118.37,929.05 126.79,931.04 135,933.75 C140.16,935.45 145.06,937.84 150,940.1 C154,941.93 157.87,944.03 161.8,946 C165.77,947.99 169.81,949.85 173.7,952 C177.72,954.22 181.65,956.6 185.5,959.1 C189.52,961.71 193.1,965 197.3,967.3 C201.05,969.36 205.16,970.69 209.2,972.1 C213.07,973.46 217.01,974.67 221,975.6 C228.85,977.44 236.76,979.01 244.7,980.4 C252.53,981.77 260.41,982.87 268.3,983.9 C275.52,984.84 282.76,985.59 290,986.3 C299.99,987.29 309.99,988.18 320,989 C346.66,991.18 373.33,993.3 400,995.3 C433.33,997.8 466.66,1000.2 500,1002.5 C538.96,1005.19 577.93,1007.67 616.9,1010.25" fill="none" stroke="#e82c2c" stroke-width="2.5" stroke-linejoin="round" stroke-linecap="round" />
<path d="M91.25,922.5 C97.5,921.5 103.85,920.98 110,919.5 C116.38,917.97 122.63,915.87 128.75,913.5 C135.15,911.03 141.19,907.69 147.5,905 C151.61,903.25 155.95,902.08 160,900.2 C164.07,898.31 167.86,895.86 171.8,893.7 C175.76,891.53 179.87,889.59 183.7,887.2 C187.78,884.65 191.66,881.8 195.5,878.9 C199.53,875.86 203.45,872.67 207.3,869.4 C211.35,865.96 215.44,862.56 219.2,858.8 C223.36,854.64 226.96,849.97 231,845.7 C234.83,841.66 238.96,837.92 242.8,833.9 C246.86,829.65 250.66,825.17 254.7,820.9 C257.76,817.66 260.96,814.56 264.1,811.4 C266.86,808.63 269.51,805.74 272.4,803.1 C274.25,801.4 276.09,799.61 278.3,798.4 C280.49,797.2 282.96,796.53 285.4,796 C290.22,794.96 295.09,794.13 300,793.7 C313.31,792.54 326.67,792.17 340,791.25 C356.67,790.1 373.32,788.63 390,787.5 C414.99,785.81 440.03,784.76 465,782.8 C483.78,781.33 502.51,779.16 521.25,777.2 C553.14,773.86 585.02,770.33 616.9,766.9" fill="none" stroke="#e82c2c" stroke-width="2.5" stroke-linejoin="round" stroke-linecap="round" />
<path d="M91.25,922.5 C95.42,925.42 99.82,928.02 103.75,931.25 C106.93,933.87 109.99,936.72 112.5,940 C115.45,943.86 117.13,948.58 120,952.5 C121.74,954.88 123.75,957.19 126.25,958.75 C128.88,960.4 131.98,961.18 135,961.9 C139.93,963.07 144.97,963.78 150,964.4 C157.88,965.38 165.8,965.92 173.7,966.7 C181.57,967.48 189.42,968.4 197.3,969.1 C205.19,969.8 213.11,970.2 221,970.9 C228.91,971.6 236.79,972.61 244.7,973.3 C252.56,973.98 260.44,974.39 268.3,975 C275.54,975.56 282.76,976.31 290,976.8 C299.99,977.48 310,977.92 320,978.5 C346.67,980.05 373.34,981.57 400,983.2 C433.34,985.24 466.66,987.44 500,989.5 C538.96,991.91 577.93,994.23 616.9,996.6" fill="none" stroke="#862a9a" stroke-width="2.5" stroke-linejoin="round" stroke-linecap="round" />
<path d="M91.25,922.5 C98.33,915 106.73,908.55 112.5,900 C118.96,890.42 122.15,878.99 127.5,868.75 C131.74,860.64 136.51,852.82 141.25,845 C144.34,839.9 147.22,834.61 151,830 C153.53,826.91 157.02,824.76 160,822.1 C163.96,818.56 167.8,814.89 171.8,811.4 C175.7,807.99 179.5,804.43 183.7,801.4 C187.42,798.71 191.36,796.28 195.5,794.3 C199.27,792.5 203.28,791.24 207.3,790.1 C215.13,787.87 223.03,785.88 231,784.2 C238.84,782.55 246.79,781.39 254.7,780.1 C262.55,778.82 270.42,777.63 278.3,776.5 C285.52,775.46 292.75,774.41 300,773.6 C329.98,770.27 360.05,767.7 390,764.1 C415.06,761.09 440.1,757.85 465,753.75 C483.87,750.64 502.61,746.78 521.25,742.5 C533.88,739.6 546.13,735.17 558.75,732.2 C578.03,727.66 597.52,724.07 616.9,720" fill="none" stroke="#862a9a" stroke-width="2.5" stroke-linejoin="round" stroke-linecap="round" />
<line x1="404" y1="828" x2="460" y2="828" stroke="#1c1c1c" stroke-width="2.7" />
<text transform="translate(466.2,836.4) scale(1.03,1)" font-family="Liberation Sans" font-size="24.2" text-anchor="start" fill="#1e1e1e" >Bare GDL</text>
<line x1="404" y1="858.4" x2="460" y2="858.4" stroke="#2222e6" stroke-width="2.7" />
<text transform="translate(466.2,866.8) scale(1.03,1)" font-family="Liberation Sans" font-size="24.2" text-anchor="start" fill="#1e1e1e" >MnOx</text>
<line x1="404" y1="888.8" x2="460" y2="888.8" stroke="#2c962c" stroke-width="2.7" />
<text transform="translate(466.2,897.2) scale(1.03,1)" font-family="Liberation Sans" font-size="24.2" text-anchor="start" fill="#1e1e1e" >Co-Fe</text>
<line x1="404" y1="919.2" x2="460" y2="919.2" stroke="#e82c2c" stroke-width="2.7" />
<text transform="translate(466.2,927.6) scale(1.03,1)" font-family="Liberation Sans" font-size="24.2" text-anchor="start" fill="#1e1e1e" >MnOx/Co-Fe</text>
<line x1="404" y1="949.6" x2="460" y2="949.6" stroke="#862a9a" stroke-width="2.7" />
<text transform="translate(466.2,958) scale(1.03,1)" font-family="Liberation Sans" font-size="24.2" text-anchor="start" fill="#1e1e1e" >Pt/C</text>
<text transform="translate(975.3,643) scale(1.05,1)" font-family="Liberation Serif" font-size="41" text-anchor="middle" fill="#111" >(d)</text>
<line x1="721.5" y1="1105" x2="730" y2="1105" stroke="#4a4a4a" stroke-width="2" />
<text transform="translate(716,1112.6)" font-family="Liberation Sans" font-size="25.5" text-anchor="end" fill="#1e1e1e" >0.0</text>
<line x1="725.5" y1="1069.42" x2="730" y2="1069.42" stroke="#4a4a4a" stroke-width="2" />
<line x1="721.5" y1="1033.84" x2="730" y2="1033.84" stroke="#4a4a4a" stroke-width="2" />
<text transform="translate(716,1041.44)" font-family="Liberation Sans" font-size="25.5" text-anchor="end" fill="#1e1e1e" >0.2</text>
<line x1="725.5" y1="998.26" x2="730" y2="998.26" stroke="#4a4a4a" stroke-width="2" />
<line x1="721.5" y1="962.68" x2="730" y2="962.68" stroke="#4a4a4a" stroke-width="2" />
<text transform="translate(716,970.28)" font-family="Liberation Sans" font-size="25.5" text-anchor="end" fill="#1e1e1e" >0.4</text>
<line x1="725.5" y1="927.1" x2="730" y2="927.1" stroke="#4a4a4a" stroke-width="2" />
<line x1="721.5" y1="891.52" x2="730" y2="891.52" stroke="#4a4a4a" stroke-width="2" />
<text transform="translate(716,899.12)" font-family="Liberation Sans" font-size="25.5" text-anchor="end" fill="#1e1e1e" >0.6</text>
<line x1="725.5" y1="855.94" x2="730" y2="855.94" stroke="#4a4a4a" stroke-width="2" />
<line x1="721.5" y1="820.36" x2="730" y2="820.36" stroke="#4a4a4a" stroke-width="2" />
<text transform="translate(716,827.96)" font-family="Liberation Sans" font-size="25.5" text-anchor="end" fill="#1e1e1e" >0.8</text>
<line x1="725.5" y1="784.78" x2="730" y2="784.78" stroke="#4a4a4a" stroke-width="2" />
<line x1="721.5" y1="749.2" x2="730" y2="749.2" stroke="#4a4a4a" stroke-width="2" />
<text transform="translate(716,756.8)" font-family="Liberation Sans" font-size="25.5" text-anchor="end" fill="#1e1e1e" >1.0</text>
<line x1="725.5" y1="713.62" x2="730" y2="713.62" stroke="#4a4a4a" stroke-width="2" />
<line x1="721.5" y1="678.04" x2="730" y2="678.04" stroke="#4a4a4a" stroke-width="2" />
<text transform="translate(716,685.64)" font-family="Liberation Sans" font-size="25.5" text-anchor="end" fill="#1e1e1e" >1.2</text>
<line x1="730" y1="1105" x2="730" y2="1113" stroke="#4a4a4a" stroke-width="2" />
<text transform="translate(730,1138)" font-family="Liberation Sans" font-size="25.5" text-anchor="middle" fill="#1e1e1e" >1.5</text>
<line x1="763.1" y1="1105" x2="763.1" y2="1110" stroke="#4a4a4a" stroke-width="2" />
<line x1="796.2" y1="1105" x2="796.2" y2="1113" stroke="#4a4a4a" stroke-width="2" />
<text transform="translate(796.2,1138)" font-family="Liberation Sans" font-size="25.5" text-anchor="middle" fill="#1e1e1e" >2.0</text>
<line x1="829.3" y1="1105" x2="829.3" y2="1110" stroke="#4a4a4a" stroke-width="2" />
<line x1="862.4" y1="1105" x2="862.4" y2="1113" stroke="#4a4a4a" stroke-width="2" />
<text transform="translate(862.4,1138)" font-family="Liberation Sans" font-size="25.5" text-anchor="middle" fill="#1e1e1e" >2.5</text>
<line x1="895.5" y1="1105" x2="895.5" y2="1110" stroke="#4a4a4a" stroke-width="2" />
<line x1="928.6" y1="1105" x2="928.6" y2="1113" stroke="#4a4a4a" stroke-width="2" />
<text transform="translate(928.6,1138)" font-family="Liberation Sans" font-size="25.5" text-anchor="middle" fill="#1e1e1e" >3.0</text>
<line x1="961.7" y1="1105" x2="961.7" y2="1110" stroke="#4a4a4a" stroke-width="2" />
<line x1="994.8" y1="1105" x2="994.8" y2="1113" stroke="#4a4a4a" stroke-width="2" />
<text transform="translate(994.8,1138)" font-family="Liberation Sans" font-size="25.5" text-anchor="middle" fill="#1e1e1e" >3.5</text>
<line x1="1027.9" y1="1105" x2="1027.9" y2="1110" stroke="#4a4a4a" stroke-width="2" />
<line x1="1061" y1="1105" x2="1061" y2="1113" stroke="#4a4a4a" stroke-width="2" />
<text transform="translate(1061,1138)" font-family="Liberation Sans" font-size="25.5" text-anchor="middle" fill="#1e1e1e" >4.0</text>
<line x1="1094.1" y1="1105" x2="1094.1" y2="1110" stroke="#4a4a4a" stroke-width="2" />
<line x1="1127.2" y1="1105" x2="1127.2" y2="1113" stroke="#4a4a4a" stroke-width="2" />
<text transform="translate(1127.2,1138)" font-family="Liberation Sans" font-size="25.5" text-anchor="middle" fill="#1e1e1e" >4.5</text>
<line x1="1160.3" y1="1105" x2="1160.3" y2="1110" stroke="#4a4a4a" stroke-width="2" />
<line x1="1193.4" y1="1105" x2="1193.4" y2="1113" stroke="#4a4a4a" stroke-width="2" />
<text transform="translate(1193.4,1138)" font-family="Liberation Sans" font-size="25.5" text-anchor="middle" fill="#1e1e1e" >5.0</text>
<line x1="1226.5" y1="1105" x2="1226.5" y2="1110" stroke="#4a4a4a" stroke-width="2" />
<line x1="1259.6" y1="1105" x2="1259.6" y2="1113" stroke="#4a4a4a" stroke-width="2" />
<text transform="translate(1259.6,1138)" font-family="Liberation Sans" font-size="25.5" text-anchor="middle" fill="#1e1e1e" >5.5</text>
<line x1="730" y1="678.2" x2="1259.6" y2="678.2" stroke="#555555" stroke-width="2.5" />
<line x1="730" y1="1105" x2="1259.6" y2="1105" stroke="#404040" stroke-width="2.5" />
<line x1="730" y1="677" x2="730" y2="1106.2" stroke="#3c3c3c" stroke-width="2.5" />
<line x1="1259.6" y1="677" x2="1259.6" y2="1106.2" stroke="#454545" stroke-width="2.5" />
<text transform="translate(946.2,1173.2)" font-family="Liberation Sans" font-size="26.5" text-anchor="start" fill="#1e1e1e" >Z' (ohm)</text>
<text transform="translate(669.8,892) rotate(-90)" font-family="Liberation Sans" font-size="26.5" text-anchor="middle" fill="#1e1e1e" >-Z" (ohm)</text>
<path d="M838.75,1105 C839.67,1103 840.43,1100.92 841.5,1099 C842.52,1097.16 844.17,1095.68 845,1093.75 C846.19,1090.96 846.61,1087.9 847.5,1085 C848.27,1082.48 849.17,1080 850,1077.5 C851.25,1073.75 852.3,1069.93 853.75,1066.25 C854.47,1064.41 855.45,1062.68 856.5,1061 C857.54,1059.33 858.75,1057.77 860,1056.25 C861.09,1054.93 862.24,1053.65 863.5,1052.5 C864.75,1051.36 866.05,1050.27 867.5,1049.4 C868.58,1048.75 869.78,1048.31 871,1048 C872.3,1047.67 873.66,1047.46 875,1047.5 C876.19,1047.53 877.37,1047.82 878.5,1048.2 C879.89,1048.66 881.23,1049.27 882.5,1050 C883.74,1050.71 884.81,1051.7 886,1052.5 C887.31,1053.37 888.67,1054.17 890,1055 C891.33,1055.83 892.55,1056.88 894,1057.5 C895.5,1058.14 897.12,1058.6 898.75,1058.75 C899.68,1058.84 900.66,1058.62 901.5,1058.2 C902.39,1057.76 903.09,1056.99 903.75,1056.25 C905.1,1054.75 906.29,1053.11 907.5,1051.5 C908.79,1049.78 910.02,1048.02 911.25,1046.25 C912.69,1044.18 914.06,1042.06 915.5,1040 C916.97,1037.9 918.63,1035.92 920,1033.75 C921.8,1030.91 923.33,1027.92 925,1025 C926.67,1022.08 928.41,1019.21 930,1016.25 C931.78,1012.94 933.4,1009.55 935.1,1006.2" fill="none" stroke="#0a0af5" stroke-width="5.2" stroke-linejoin="round" stroke-linecap="round" />
<polyline points="935.1,1006.2 940.1,996 945.2,985.9 950.3,974 954.5,966.4 957.1,958.8 961.3,950.4 964.7,941.9 968.6,932.6 973.1,923.3 977.9,912.8 983.8,902.7 989.2,892.5 995.6,882.4 1002.7,871.7 1010.3,862.1 1018.3,853.1 1027.3,845.5 1036.6,839.6 1046.7,834.5 1056.8,830.6 1066.7,830 1078,832.8 1087.3,835 1097.8,841.7 1118,848 1125.1,855.6 1132,865.3 1138.8,876.4 1144.7,889.1 1151,903.3 1156.6,917 1161.7,930.5 1166.7,945.7 1170,955.8 1173.3,971 1175.9,983.7 1178.1,992.6 1179.4,1002.7 1180.7,1012.9 1181.4,1021.8 1182.7,1033.2 1183.2,1042.1 1184,1050.9 1187.8,1066.2 1187.4,1070 1187,1073.8 1186.5,1077.6 1186,1081.4 1185.2,1085.8 1184.5,1090.2 1183,1094 1181.4,1097.9 1179.5,1098.5 1177.6,1099.1 1175.9,1101.7 1176.5,1104 1179,1104 1182,1103.5" fill="none" stroke="#0a0af5" stroke-width="1.4" stroke-linejoin="round" stroke-linecap="round" />
<circle cx="935.1" cy="1006.2" r="2.5" fill="#0a0af5"/>
<circle cx="940.1" cy="996" r="2.5" fill="#0a0af5"/>
<circle cx="945.2" cy="985.9" r="2.5" fill="#0a0af5"/>
<circle cx="950.3" cy="974" r="2.5" fill="#0a0af5"/>
<circle cx="954.5" cy="966.4" r="2.5" fill="#0a0af5"/>
<circle cx="957.1" cy="958.8" r="2.5" fill="#0a0af5"/>
<circle cx="961.3" cy="950.4" r="2.5" fill="#0a0af5"/>
<circle cx="964.7" cy="941.9" r="2.5" fill="#0a0af5"/>
<circle cx="968.6" cy="932.6" r="2.5" fill="#0a0af5"/>
<circle cx="973.1" cy="923.3" r="2.5" fill="#0a0af5"/>
<circle cx="977.9" cy="912.8" r="2.5" fill="#0a0af5"/>
<circle cx="983.8" cy="902.7" r="2.5" fill="#0a0af5"/>
<circle cx="989.2" cy="892.5" r="2.5" fill="#0a0af5"/>
<circle cx="995.6" cy="882.4" r="2.5" fill="#0a0af5"/>
<circle cx="1002.7" cy="871.7" r="2.5" fill="#0a0af5"/>
<circle cx="1010.3" cy="862.1" r="2.5" fill="#0a0af5"/>
<circle cx="1018.3" cy="853.1" r="2.5" fill="#0a0af5"/>
<circle cx="1027.3" cy="845.5" r="2.5" fill="#0a0af5"/>
<circle cx="1036.6" cy="839.6" r="2.5" fill="#0a0af5"/>
<circle cx="1046.7" cy="834.5" r="2.5" fill="#0a0af5"/>
<circle cx="1056.8" cy="830.6" r="2.5" fill="#0a0af5"/>
<circle cx="1066.7" cy="830" r="2.5" fill="#0a0af5"/>
<circle cx="1078" cy="832.8" r="2.5" fill="#0a0af5"/>
<circle cx="1087.3" cy="835" r="2.5" fill="#0a0af5"/>
<circle cx="1097.8" cy="841.7" r="2.5" fill="#0a0af5"/>
<circle cx="1118" cy="848" r="2.5" fill="#0a0af5"/>
<circle cx="1125.1" cy="855.6" r="2.5" fill="#0a0af5"/>
<circle cx="1132" cy="865.3" r="2.5" fill="#0a0af5"/>
<circle cx="1138.8" cy="876.4" r="2.5" fill="#0a0af5"/>
<circle cx="1144.7" cy="889.1" r="2.5" fill="#0a0af5"/>
<circle cx="1151" cy="903.3" r="2.5" fill="#0a0af5"/>
<circle cx="1156.6" cy="917" r="2.5" fill="#0a0af5"/>
<circle cx="1161.7" cy="930.5" r="2.5" fill="#0a0af5"/>
<circle cx="1166.7" cy="945.7" r="2.5" fill="#0a0af5"/>
<circle cx="1170" cy="955.8" r="2.5" fill="#0a0af5"/>
<circle cx="1173.3" cy="971" r="2.5" fill="#0a0af5"/>
<circle cx="1175.9" cy="983.7" r="2.5" fill="#0a0af5"/>
<circle cx="1178.1" cy="992.6" r="2.5" fill="#0a0af5"/>
<circle cx="1179.4" cy="1002.7" r="2.5" fill="#0a0af5"/>
<circle cx="1180.7" cy="1012.9" r="2.5" fill="#0a0af5"/>
<circle cx="1181.4" cy="1021.8" r="2.5" fill="#0a0af5"/>
<circle cx="1182.7" cy="1033.2" r="2.5" fill="#0a0af5"/>
<circle cx="1183.2" cy="1042.1" r="2.5" fill="#0a0af5"/>
<circle cx="1184" cy="1050.9" r="2.5" fill="#0a0af5"/>
<circle cx="1187.8" cy="1066.2" r="2.5" fill="#0a0af5"/>
<circle cx="1187.4" cy="1070" r="2.5" fill="#0a0af5"/>
<circle cx="1187" cy="1073.8" r="2.5" fill="#0a0af5"/>
<circle cx="1186.5" cy="1077.6" r="2.5" fill="#0a0af5"/>
<circle cx="1186" cy="1081.4" r="2.5" fill="#0a0af5"/>
<circle cx="1185.2" cy="1085.8" r="2.5" fill="#0a0af5"/>
<circle cx="1184.5" cy="1090.2" r="2.5" fill="#0a0af5"/>
<circle cx="1183" cy="1094" r="2.5" fill="#0a0af5"/>
<circle cx="1181.4" cy="1097.9" r="2.5" fill="#0a0af5"/>
<circle cx="1179.5" cy="1098.5" r="2.5" fill="#0a0af5"/>
<circle cx="1177.6" cy="1099.1" r="2.5" fill="#0a0af5"/>
<circle cx="1175.9" cy="1101.7" r="2.5" fill="#0a0af5"/>
<circle cx="1176.5" cy="1104" r="2.5" fill="#0a0af5"/>
<circle cx="1179" cy="1104" r="2.5" fill="#0a0af5"/>
<circle cx="1182" cy="1103.5" r="2.5" fill="#0a0af5"/>
<path d="M791.25,1105 C792,1100.67 792.59,1096.3 793.5,1092 C794.26,1088.38 795.35,1084.84 796.25,1081.25 C797.35,1076.84 798.19,1072.36 799.5,1068 C800.7,1064.01 802.05,1060.05 803.75,1056.25 C804.89,1053.69 806.39,1051.29 808,1049 C809.32,1047.11 810.84,1045.35 812.5,1043.75 C815.27,1041.09 817.95,1038.21 821.25,1036.25 C824.71,1034.2 828.49,1032.25 832.5,1031.9 C835.92,1031.6 839.43,1032.87 842.5,1034.4 C845.81,1036.05 848.78,1038.49 851.25,1041.25 C854.26,1044.6 856.51,1048.59 858.75,1052.5 C860.11,1054.86 861.08,1057.43 862,1060 C863.17,1063.28 864.08,1066.64 865,1070 C865.91,1073.31 866.66,1076.67 867.5,1080 C868.13,1082.5 868.25,1085.19 869.4,1087.5 C869.68,1088.05 870.23,1086.56 870.5,1086 C871.44,1084.05 872.09,1081.97 873,1080 C873.59,1078.71 874.21,1077.43 875,1076.25 C875.89,1074.92 876.75,1073.5 878,1072.5 C878.91,1071.77 880.1,1071.07 881.25,1071.25 C882.55,1071.45 883.57,1072.57 884.5,1073.5 C885.68,1074.68 886.61,1076.09 887.5,1077.5 C889.29,1080.35 891.09,1083.2 892.5,1086.25 C893.6,1088.64 894.81,1091.12 895,1093.75 C895.16,1095.89 894,1097.92 893.5,1100 L893.5,1104" fill="none" stroke="#80107f" stroke-width="5.2" stroke-linejoin="round" stroke-linecap="round" />
<path d="M797.5,1105 C798,1101.33 798.32,1097.64 799,1094 C799.57,1090.96 800.38,1087.97 801.25,1085 C802.05,1082.29 802.92,1079.6 804,1077 C805,1074.59 806.23,1072.28 807.5,1070 C808.56,1068.1 809.7,1066.24 811,1064.5 C812.2,1062.89 813.46,1061.28 815,1060 C816.49,1058.76 818.22,1057.78 820,1057 C821.58,1056.3 823.27,1055.69 825,1055.6 C826.69,1055.52 828.45,1055.82 830,1056.5 C831.86,1057.32 833.48,1058.65 835,1060 C836.5,1061.33 837.8,1062.89 839,1064.5 C840.3,1066.24 841.43,1068.11 842.5,1070 C843.6,1071.95 844.67,1073.92 845.5,1076 C846.34,1078.1 846.83,1080.33 847.5,1082.5 C848.17,1084.67 848.85,1086.83 849.5,1089 C850.1,1091 849.25,1094.43 851.25,1095 C852.95,1095.49 852.38,1091.65 853,1090 C853.63,1088.32 854.2,1086.61 855,1085 C855.7,1083.59 856.52,1082.23 857.5,1081 C858.2,1080.12 858.93,1079.07 860,1078.75 C860.83,1078.5 861.8,1078.98 862.5,1079.5 C863.54,1080.28 864.15,1081.51 865,1082.5 C866.15,1083.85 867.25,1085.25 868.5,1086.5 C869.75,1087.75 871.17,1088.83 872.5,1090 C874.17,1091.46 875.83,1092.93 877.5,1094.4" fill="none" stroke="#f51010" stroke-width="5.2" stroke-linejoin="round" stroke-linecap="round" />
<path d="M984.7,746.8 L988.8,746.8 L992.9,741 L997.6,752.7 L1004,741 L1009.9,752.7 L1016.9,741 L1022.2,752.7 L1024.5,746.8 L1043.3,746.8" fill="none" stroke="#6e6e6e" stroke-width="1.8" stroke-linejoin="round" />
<path d="M1043.3,746.8 L1043.3,703.8 L1062,703.8 L1065.5,698.2 L1071,709.3 L1077,698.2 L1083,709.3 L1089,698.2 L1094.5,709.3 L1096.5,704.5 M1098.5,703.8 L1123.6,703.8 L1123.6,786.7 L1081.4,786.7 M1077.9,786.7 L1043.3,786.7 L1043.3,746.8" fill="none" stroke="#6e6e6e" stroke-width="1.8" stroke-linejoin="round" />
<path d="M1077.9,780.2 L1077.9,793.1 M1081.4,780.2 L1081.4,793.1" fill="none" stroke="#6e6e6e" stroke-width="1.6" stroke-linejoin="round" />
<path d="M1123.6,743.7 L1153.1,743.7 M1237.5,743.7 L1255.6,743.7 M1153.1,703.8 L1153.1,786.7" fill="none" stroke="#c0c0c0" stroke-width="1.6" stroke-linejoin="round" />
<path d="M1153.1,703.8 L1176,703.8 L1179,697.6 L1184.5,708.75 L1190.5,697.6 L1196.5,708.75 L1202.5,697.6 L1208.5,708.75 L1211,704 M1213,703.8 L1237.5,703.8 L1237.5,786.7 L1198.4,786.7 M1194.7,786.7 L1153.1,786.7" fill="none" stroke="#6e6e6e" stroke-width="1.8" stroke-linejoin="round" />
<path d="M1194.7,780 L1194.7,793 M1198.4,780 L1198.4,793" fill="none" stroke="#6e6e6e" stroke-width="1.6" stroke-linejoin="round" />
<text x="1066" y="731.6" font-family="Liberation Serif" font-weight="bold" font-size="20" fill="#2a2a2a">R<tspan font-size="12.5">int</tspan></text>
<text x="1184" y="731.6" font-family="Liberation Serif" font-weight="bold" font-size="20" fill="#2a2a2a">R<tspan font-size="12.5">ct</tspan></text>
<text x="995.5" y="777.9" font-family="Liberation Serif" font-weight="bold" font-size="20" fill="#2a2a2a">R<tspan font-size="12.5">s</tspan></text>
<text x="1067.5" y="811" font-family="Liberation Serif" font-weight="bold" font-size="20" fill="#2a2a2a">Q<tspan font-size="12.5">int</tspan></text>
<text x="1184.3" y="811" font-family="Liberation Serif" font-weight="bold" font-size="20" fill="#2a2a2a">Q<tspan font-size="12.5">ct</tspan></text>
<line x1="743.75" y1="708.75" x2="806.25" y2="708.75" stroke="#0a0af5" stroke-width="1.5" />
<circle cx="775" cy="708.75" r="2.8" fill="#0a0af5"/>
<text transform="translate(813.3,718.15) scale(1.04,1)" font-family="Liberation Sans" font-size="27.8" text-anchor="start" fill="#1e1e1e" >MnOx</text>
<line x1="743.75" y1="743.15" x2="806.25" y2="743.15" stroke="#f51010" stroke-width="1.5" />
<circle cx="775" cy="743.15" r="2.8" fill="#f51010"/>
<text transform="translate(813.3,752.55) scale(1.04,1)" font-family="Liberation Sans" font-size="27.8" text-anchor="start" fill="#1e1e1e" >MnOx/Co-Fe</text>
<line x1="743.75" y1="777.55" x2="806.25" y2="777.55" stroke="#80107f" stroke-width="1.5" />
<circle cx="775" cy="777.55" r="2.8" fill="#80107f"/>
<text transform="translate(813.3,786.95) scale(1.04,1)" font-family="Liberation Sans" font-size="27.8" text-anchor="start" fill="#1e1e1e" >Pt/C</text>
</svg>
</body></html>
